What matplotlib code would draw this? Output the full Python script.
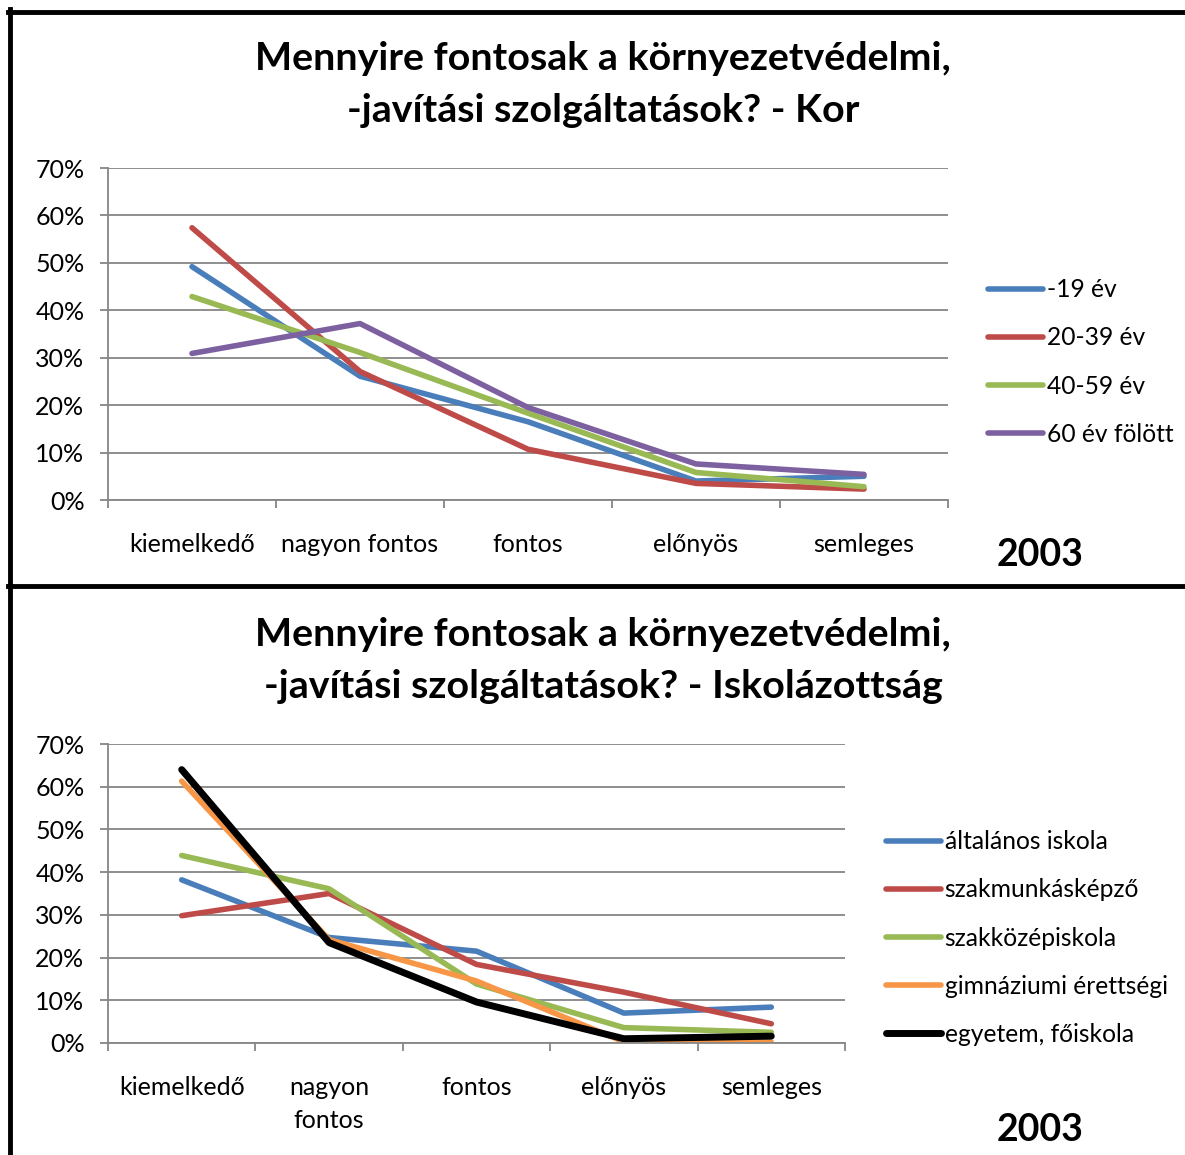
import matplotlib
matplotlib.use("Agg")
import matplotlib.pyplot as plt
from matplotlib.lines import Line2D
from matplotlib.ticker import PercentFormatter

plt.rcParams['font.family'] = ['Lato', 'DejaVu Sans']

W, H = 1185, 1155

categories = ["kiemelkedő", "nagyon fontos", "fontos", "előnyös", "semleges"]
categories_wrapped = ["kiemelkedő", "nagyon\nfontos", "fontos", "előnyös", "semleges"]

# Top chart: age groups (fractions)
age_labels = ["-19 év", "20-39 év", "40-59 év", "60 év fölött"]
age_19 = [0.492, 0.261, 0.165, 0.040, 0.050]
age_20_39 = [0.574, 0.271, 0.107, 0.035, 0.023]
age_40_59 = [0.429, 0.311, 0.183, 0.058, 0.028]
age_60 = [0.309, 0.372, 0.195, 0.076, 0.054]
age_colors = ["#4A7EBB", "#BE4B48", "#98B954", "#7D60A0"]

# Bottom chart: education (fractions)
edu_labels = ["általános iskola", "szakmunkásképző", "szakközépiskola",
              "gimnáziumi érettségi", "egyetem, főiskola"]
edu_general = [0.382, 0.247, 0.215, 0.070, 0.084]
edu_vocational = [0.298, 0.350, 0.184, 0.119, 0.045]
edu_secondary = [0.439, 0.361, 0.138, 0.036, 0.025]
edu_gymnasium = [0.613, 0.242, 0.145, 0.003, 0.002]
edu_university = [0.640, 0.235, 0.096, 0.010, 0.016]
edu_colors = ["#4A7EBB", "#BE4B48", "#98B954", "#F79646", "#000000"]

titles = [
    ("Mennyire fontosak a környezetvédelmi,", "-javítási szolgáltatások? - Kor"),
    ("Mennyire fontosak a környezetvédelmi,", "-javítási szolgáltatások? - Iskolázottság"),
]
year_label = "2003"

yticks = [0.0, 0.1, 0.2, 0.3, 0.4, 0.5, 0.6, 0.7]

GRID = "#868686"

fig = plt.figure(figsize=(W / 100, H / 100), dpi=100)


def px_axes(x0, y0, x1, y1):
    return fig.add_axes([x0 / W, 1 - y1 / H, (x1 - x0) / W, (y1 - y0) / H])


def style_axes(ax, labels):
    ax.set_xlim(-0.5, len(labels) - 0.5)
    ax.set_ylim(0, 0.7)
    ax.set_yticks(yticks)
    ax.yaxis.set_major_formatter(PercentFormatter(1.0, decimals=0))
    ax.grid(axis='y', color=GRID, linewidth=1.3)
    ax.set_axisbelow(True)
    for s in ['top', 'right']:
        ax.spines[s].set_visible(False)
    for s in ['left', 'bottom']:
        ax.spines[s].set_color(GRID)
        ax.spines[s].set_linewidth(1.3)
    ax.set_xticks(range(len(labels)))
    ax.set_xticklabels(labels, fontsize=18, linespacing=1.55)
    ax.set_xticks([i - 0.5 for i in range(len(labels) + 1)], minor=True)
    ax.tick_params(axis='x', which='major', length=0, pad=23.5)
    ax.tick_params(axis='x', which='minor', length=6, width=1.3, color=GRID, direction='out')
    ax.tick_params(axis='y', length=6, width=1.3, color=GRID, direction='out', pad=11, labelsize=18)


# ---------- Top chart ----------
ax1 = px_axes(108, 168, 948, 500)
style_axes(ax1, categories)
x = list(range(len(categories)))
for vals, col, lab in zip([age_19, age_20_39, age_40_59, age_60], age_colors, age_labels):
    ax1.plot(x, vals, color=col, linewidth=4.0, label=lab,
             solid_capstyle='round', solid_joinstyle='round')
fig.legend(handles=ax1.get_lines(), labels=age_labels,
           loc='center left', bbox_to_anchor=(988 / W, 1 - 362 / H),
           frameon=False, fontsize=17.7, handlelength=2.23, handletextpad=0.15,
           labelspacing=1.02, borderpad=0, borderaxespad=0)

# ---------- Bottom chart ----------
ax2 = px_axes(108, 744, 845, 1043)
style_axes(ax2, categories_wrapped)
for vals, col, lab in zip([edu_general, edu_vocational, edu_secondary, edu_gymnasium, edu_university],
                          edu_colors, edu_labels):
    lw = 5.0 if col == "#000000" else 4.0
    ax2.plot(x, vals, color=col, linewidth=lw, label=lab,
             solid_capstyle='round', solid_joinstyle='round')
fig.legend(handles=ax2.get_lines(), labels=edu_labels,
           loc='center left', bbox_to_anchor=(886 / W, 1 - 938 / H),
           frameon=False, fontsize=17.7, handlelength=2.23, handletextpad=0.15,
           labelspacing=1.02, borderpad=0, borderaxespad=0)

# ---------- Titles and year labels ----------
for (l1, l2), y1, y2 in zip(titles, [58, 634], [110, 686]):
    fig.text(603 / W, 1 - y1 / H, l1, ha='center', va='center', fontsize=28.4, fontweight='bold')
    fig.text(603 / W, 1 - y2 / H, l2, ha='center', va='center', fontsize=28.4, fontweight='bold')

for yy in [555, 1130]:
    fig.text(1040 / W, 1 - yy / H, year_label, ha='center', va='center', fontsize=27, fontweight='bold')

# ---------- Black frame lines ----------
fig.add_artist(Line2D([9.5 / W, 9.5 / W], [1 - 9 / H, 0], color='black', linewidth=3.5,
                      transform=fig.transFigure))
fig.add_artist(Line2D([8 / W, 1], [1 - 11.5 / H, 1 - 11.5 / H], color='black', linewidth=3.5,
                      transform=fig.transFigure))
fig.add_artist(Line2D([8 / W, 1], [1 - 585.5 / H, 1 - 585.5 / H], color='black', linewidth=3.5,
                      transform=fig.transFigure))

fig.savefig("out.png", dpi=100, facecolor='white')
